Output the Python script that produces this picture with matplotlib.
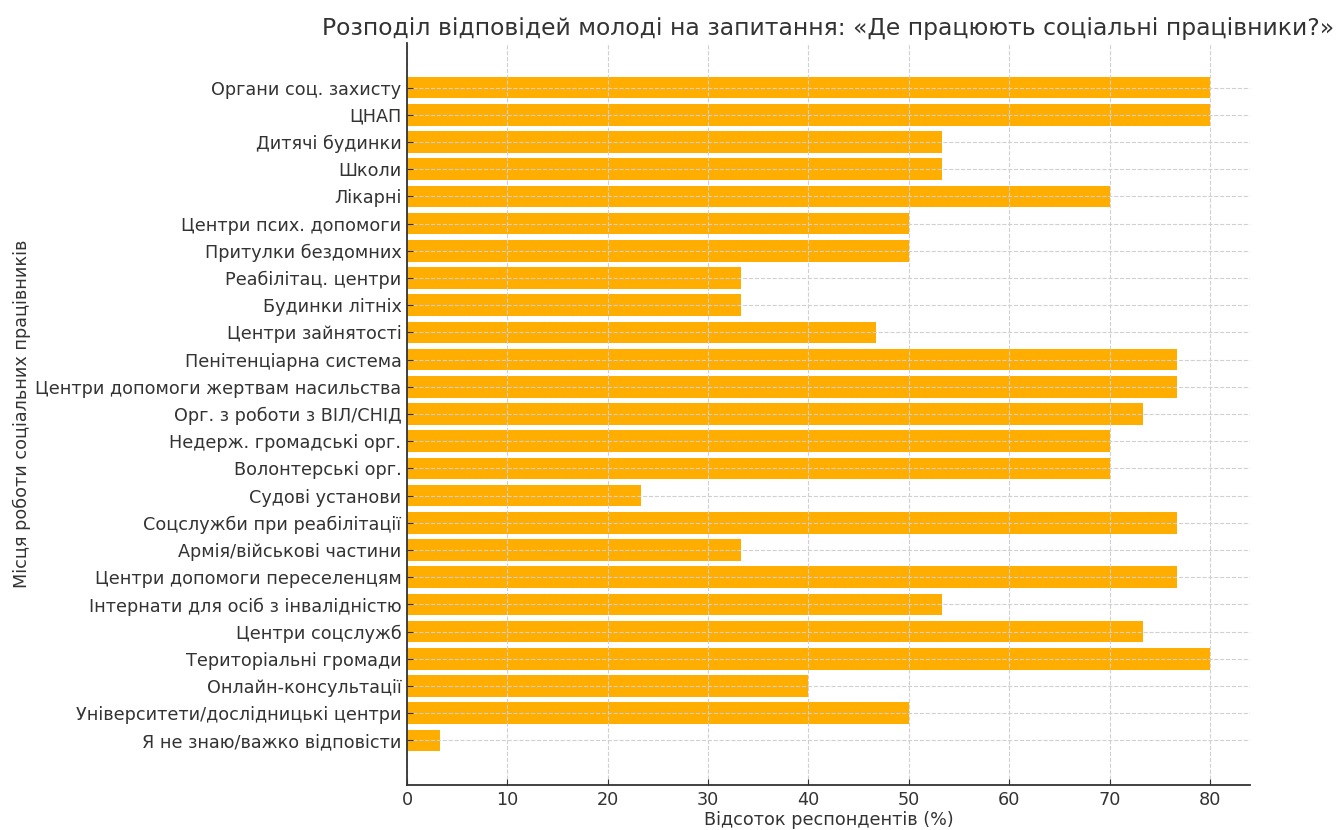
import matplotlib
matplotlib.use("Agg")
import matplotlib.pyplot as plt

categories = [
    "Органи соц. захисту",
    "ЦНАП",
    "Дитячі будинки",
    "Школи",
    "Лікарні",
    "Центри псих. допомоги",
    "Притулки бездомних",
    "Реабілітац. центри",
    "Будинки літніх",
    "Центри зайнятості",
    "Пенітенціарна система",
    "Центри допомоги жертвам насильства",
    "Орг. з роботи з ВІЛ/СНІД",
    "Недерж. громадські орг.",
    "Волонтерські орг.",
    "Судові установи",
    "Соцслужби при реабілітації",
    "Армія/військові частини",
    "Центри допомоги переселенцям",
    "Інтернати для осіб з інвалідністю",
    "Центри соцслужб",
    "Територіальні громади",
    "Онлайн-консультації",
    "Університети/дослідницькі центри",
    "Я не знаю/важко відповісти",
]

percentages = [
    80.0, 80.0, 53.3, 53.3, 70.0, 50.0, 50.0, 33.3, 33.3, 46.7,
    76.7, 76.7, 73.3, 70.0, 70.0, 23.3, 76.7, 33.3, 76.7, 53.3,
    73.3, 80.0, 40.0, 50.0, 3.3,
]

title = "Розподіл відповідей молоді на запитання: «Де працюють соціальні працівники?»"
xlabel = "Відсоток респондентів (%)"
ylabel = "Місця роботи соціальних працівників"

text_color = "#333333"
bar_color = "#FFAE00"

plt.rcParams["font.family"] = ["DejaVu Sans"]

fig = plt.figure(figsize=(13.37, 8.30), dpi=100)
W, H = 1337, 830
left, right, top, bottom = 407, 1250, 43, 785
ax = fig.add_axes([left / W, 1 - bottom / H, (right - left) / W, (bottom - top) / H])

ax.barh(categories, percentages, color=bar_color, height=0.8, zorder=2)
ax.invert_yaxis()

ax.grid(True, linestyle="--", color="#d0d0d0", linewidth=0.8, zorder=3)
ax.set_axisbelow(False)
for s in ("top", "right"):
    ax.spines[s].set_visible(False)
for s in ("left", "bottom"):
    ax.spines[s].set_color(text_color)
    ax.spines[s].set_linewidth(1.3)
    ax.spines[s].set_zorder(4)

ax.tick_params(axis="both", direction="in", labelsize=12.7, colors=text_color,
               length=4, pad=4)
ax.set_xlabel(xlabel, fontsize=12.7, color=text_color, labelpad=2)
ax.set_ylabel(ylabel, fontsize=12.7, color=text_color, labelpad=3)
ax.set_title(title, fontsize=16.9, color=text_color, pad=6)

fig.savefig("out.png", dpi=100)
